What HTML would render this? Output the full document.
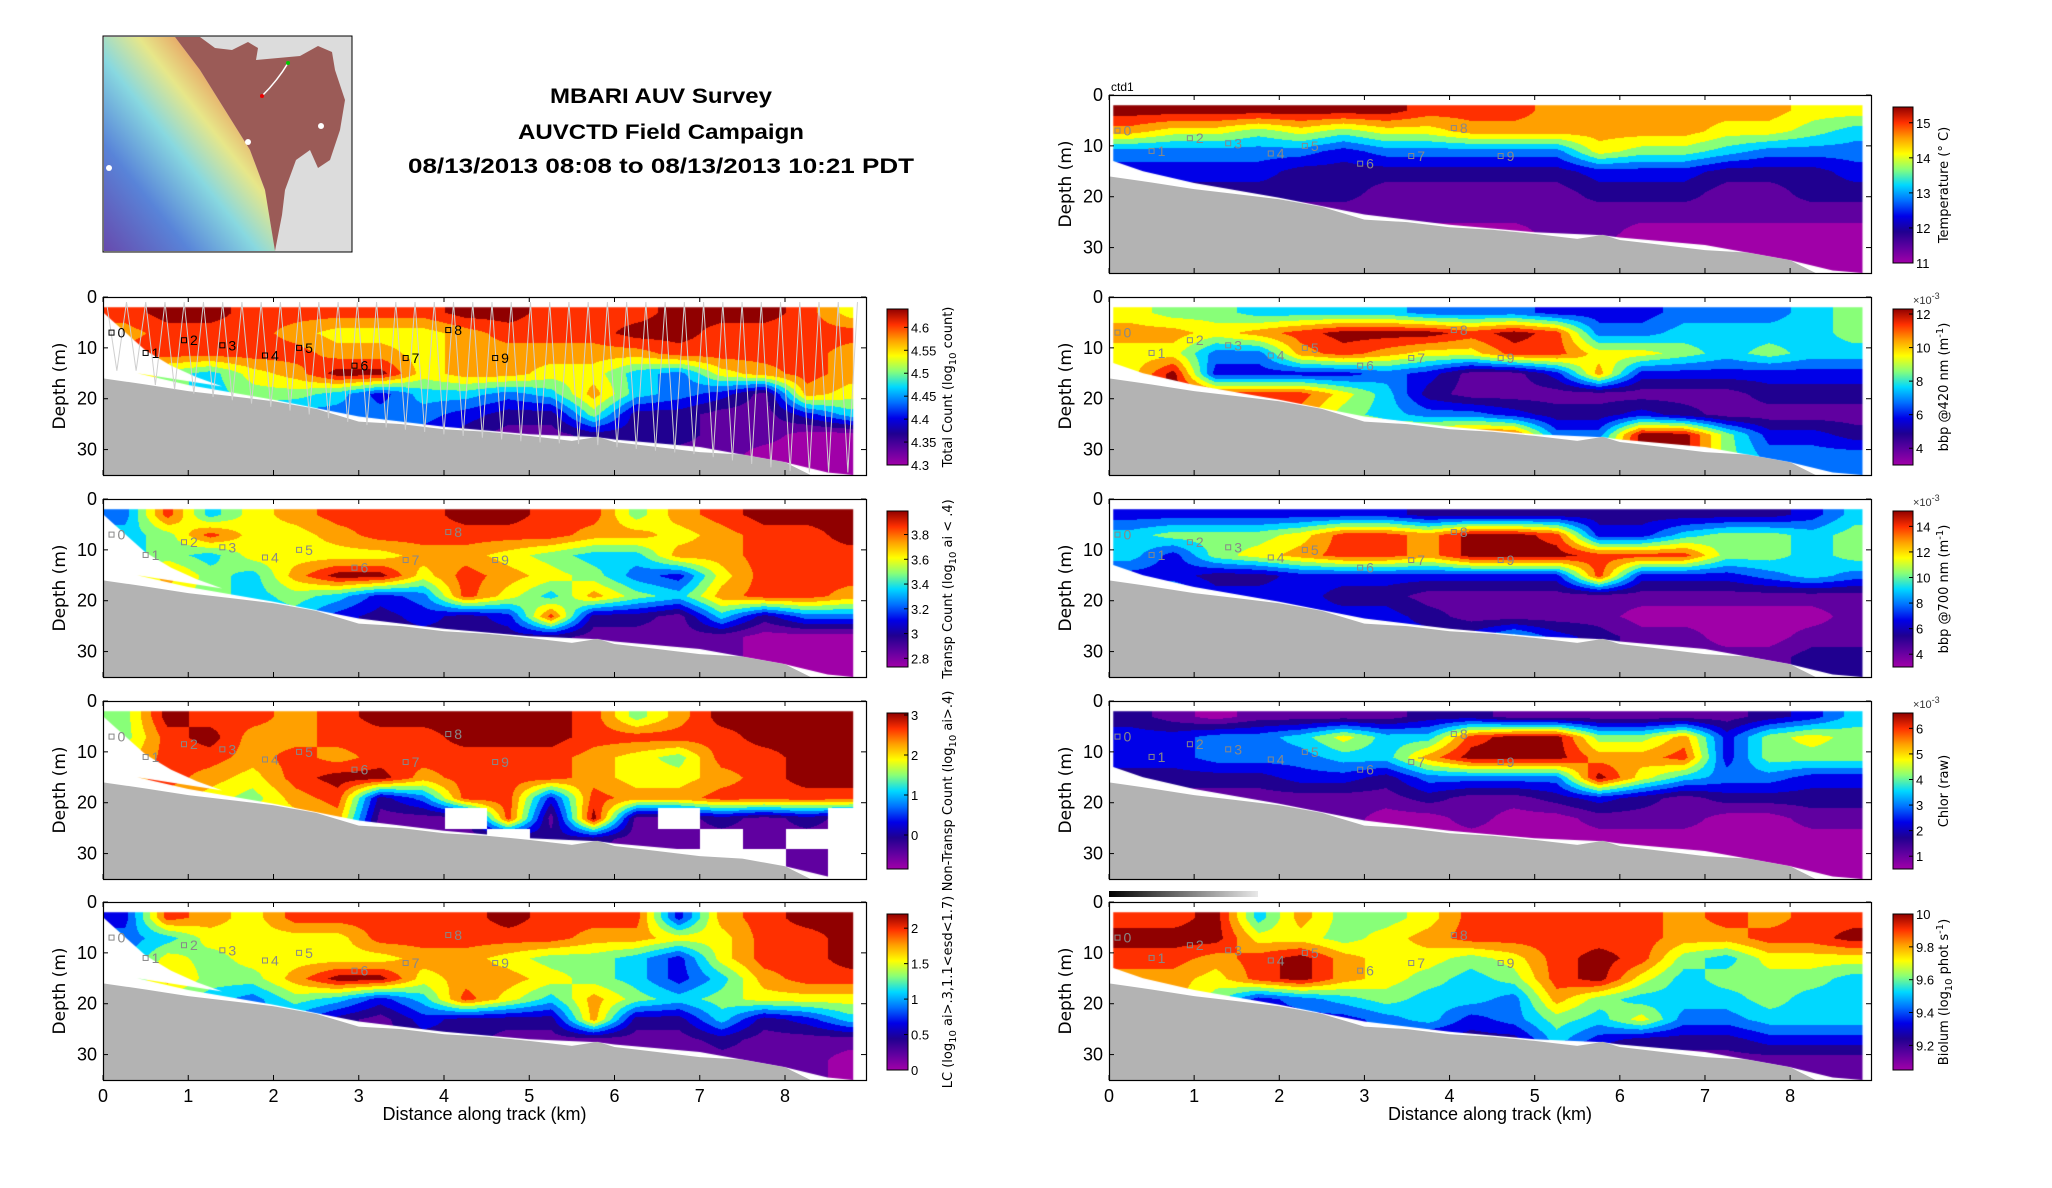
<!DOCTYPE html>
<html><head><meta charset="utf-8">
<style>
html,body{margin:0;padding:0;background:#fff;}
#root{position:relative;width:2052px;height:1188px;overflow:hidden;background:#fff;font-family:"Liberation Sans","DejaVu Sans",sans-serif;}
canvas{position:absolute;}
svg{position:absolute;left:0;top:0;}
</style></head>
<body>
<div id="root">
<svg id="ov" width="2052" height="1188">
 <defs>
  <linearGradient id="cbar" x1="0" y1="1" x2="0" y2="0">
   <stop offset="0" stop-color="#a000a8"/><stop offset="0.1" stop-color="#6000a0"/>
   <stop offset="0.2" stop-color="#200090"/><stop offset="0.3" stop-color="#0000e8"/>
   <stop offset="0.4" stop-color="#0070ff"/><stop offset="0.5" stop-color="#00d8ff"/>
   <stop offset="0.6" stop-color="#88ff78"/><stop offset="0.7" stop-color="#ffff00"/>
   <stop offset="0.8" stop-color="#ffa000"/><stop offset="0.9" stop-color="#ff3000"/>
   <stop offset="1" stop-color="#900000"/>
  </linearGradient>
  <linearGradient id="mapg" x1="0" y1="1" x2="1" y2="0">
   <stop offset="0" stop-color="#5a3aa8"/><stop offset="0.25" stop-color="#4a7ad8"/>
   <stop offset="0.45" stop-color="#7fd8e0"/><stop offset="0.6" stop-color="#e8e880"/>
   <stop offset="0.75" stop-color="#e89050"/><stop offset="0.9" stop-color="#c04040"/>
  </linearGradient>
  <linearGradient id="greybar" x1="0" y1="0" x2="1" y2="0">
   <stop offset="0" stop-color="#000"/><stop offset="1" stop-color="#e8e8e8"/>
  </linearGradient>
 </defs>
 <g>
  <rect x="103" y="36" width="249" height="216" fill="#dcdcdc" stroke="#000" stroke-width="1"/>
  <polygon points="104,37 175,37 200,70 225,110 250,150 265,190 275,251 104,251" fill="url(#mapg)" opacity="0.9"/>
  <polygon points="175,37 200,37 215,48 232,50 248,42 258,48 256,60 300,56 318,46 332,52 335,70 345,100 340,130 330,160 318,168 310,150 296,160 285,190 282,215 275,251 265,190 250,150 225,110 200,70" fill="#9b5b57"/>
  <path d="M262,96 Q278,80 288,63" stroke="#fff" stroke-width="1.5" fill="none"/>
  <circle cx="262" cy="96" r="2" fill="#e00"/><circle cx="288" cy="63" r="2" fill="#0c0"/>
  <circle cx="321" cy="126" r="3" fill="#fff"/><circle cx="248" cy="142" r="3" fill="#fff"/><circle cx="109" cy="168" r="3" fill="#fff"/>
 </g>
 <g font-weight="bold" font-size="21" text-anchor="middle">
  <text x="661" y="103" textLength="222" lengthAdjust="spacingAndGlyphs">MBARI AUV Survey</text>
  <text x="661" y="139" textLength="286" lengthAdjust="spacingAndGlyphs">AUVCTD Field Campaign</text>
  <text x="661" y="173" textLength="506" lengthAdjust="spacingAndGlyphs">08/13/2013 08:08 to 08/13/2013 10:21 PDT</text>
 </g>
 <text x="1111" y="91" font-size="12">ctd1</text>
 <rect x="1109" y="891" width="149" height="6" fill="url(#greybar)"/>
</svg>
</div>
<script>
// ---------- data ----------
const colKm=[0.25,0.75,1.25,1.75,2.25,2.75,3.25,3.75,4.25,4.75,5.25,5.75,6.25,6.75,7.25,7.75,8.25,8.75];
const rowDepth=[3,7,11,15,19,23,27,31];
const xTicks=[0,1,2,3,4,5,6,7,8];
const yTicks=[0,10,20,30];
const bathyKm=[0,0.5,1,1.5,2,2.5,3,3.5,4,4.5,5,5.5,5.8,6,6.5,7,7.5,8,8.3,8.95];
const bathyDepth=[16,17.2,18.5,19.5,20.5,22,24.5,25,26,26.5,27.3,28.3,27.5,28.5,29.5,30.5,31,32.5,35,35];
const dataBottomKm=[8.85,8.5,8,7,6,5.8,5,4,3,2,1,0.4];
const dataBottomDepth=[35,34.5,32.5,29.5,28,27.6,27,25.5,23.5,20.2,17.3,15];
const leftCutKm=[1.4,1.1,0.8,0.5,0.3,0.1,0];
const leftCutDepth=[17.6,15.8,13.5,10.5,7.5,4.5,3];
const stationNames=["0","1","2","3","4","5","6","7","8","9"];
const stationKm=[0.1,0.5,0.95,1.4,1.9,2.3,2.95,3.55,4.05,4.6];
const stationDepth=[7,11,8.5,9.5,11.5,10,13.5,12,6.5,12];

const tempGrid=[
[10,10,10,10,10,10,10,9,9,9,8,8,8,8,8,8,7,7],
[8,7,7,6,7,6,7,7,8,8,8,8,8,8,7,7,6,5],
[4,4,4,4,4,3,4,4,4,4,4,7,6,6,5,4,4,4],
[3,3,3,3,2,2,2,2,2,2,2,3,3,3,2,2,2,3],
[2,2,2,2,2,2,1,1,1,1,1,2,2,2,1,1,2,2],
[2,2,1,1,1,1,1,1,1,1,1,1,1,1,1,1,1,1],
[1,1,1,1,1,1,1,0,0,0,1,1,0,0,0,0,0,0],
[1,1,1,1,1,1,1,0,0,0,0,0,0,0,0,0,0,0]];
const bbp420Grid=[
[7,6,6,5,5,5,5,4,4,4,3,3,3,4,4,4,5,6],
[8,8,7,8,9,10,10,10,9,10,9,4,4,5,5,5,5,6],
[7,7,4,4,8,9,8,7,7,9,9,7,7,6,5,6,5,5],
[7,10,3,3,3,3,4,3,1,1,3,8,3,3,3,3,3,3],
[7,10,9,9,9,7,5,2,1,1,1,1,1,1,1,2,2,2],
[7,9,9,9,8,6,5,4,4,3,2,2,3,2,1,1,1,1],
[7,9,9,9,8,8,7,8,9,9,4,4,10,10,6,3,3,2],
[7,9,9,9,8,8,8,8,9,9,6,6,10,10,6,4,4,4]];
const bbp700Grid=[
[3,3,3,3,3,3,3,2,2,2,2,2,2,2,2,2,3,5],
[5,6,6,6,7,9,9,8,10,10,9,3,3,5,6,6,5,6],
[5,3,6,7,8,9,9,8,10,10,10,9,9,9,6,6,5,6],
[3,3,2,2,3,3,3,3,3,3,3,9,3,3,3,4,5,4],
[5,5,3,3,3,2,2,1,1,1,1,1,1,1,1,1,1,1],
[4,4,3,3,3,3,3,2,1,1,1,1,0,0,0,0,0,1],
[4,4,3,3,3,3,3,3,3,5,3,2,1,1,0,0,1,1],
[4,4,3,3,3,3,3,3,3,4,3,2,1,1,1,1,2,2]];
const chlorGrid=[
[2,1,0,1,1,1,1,2,2,1,1,1,1,1,1,2,3,5],
[3,3,4,4,5,7,5,5,9,10,10,6,6,8,3,6,7,6],
[3,3,4,4,4,5,5,8,10,10,10,8,8,9,3,6,6,6],
[2,2,2,2,3,3,2,4,4,4,4,10,7,5,4,4,3,3],
[1,1,1,1,1,1,1,2,1,1,2,3,2,1,2,2,2,2],
[1,1,1,1,1,1,0,0,1,0,0,1,1,1,0,0,1,1],
[1,1,1,1,1,1,0,0,0,0,0,0,0,0,0,0,0,0],
[1,1,1,1,1,1,0,0,0,0,0,0,0,0,0,0,0,0]];
const biolumGrid=[
[9,9,10,5,8,6,6,7,9,9,9,9,9,8,9,8,9,9],
[10,10,10,7,7,6,7,8,9,9,9,9,9,8,8,9,9,10],
[9,9,8,9,10,8,7,7,6,7,9,10,9,6,5,7,7,7],
[8,8,7,9,10,8,7,6,5,6,9,10,7,5,6,6,6,5],
[8,8,6,3,4,5,6,5,5,4,8,6,5,5,5,6,5,5],
[8,8,6,3,3,3,4,5,3,4,6,5,7,4,4,5,5,5],
[8,8,6,3,3,3,3,2,2,2,5,3,2,2,2,3,3,3],
[8,8,6,3,3,3,3,2,2,2,2,1,1,1,1,1,1,1]];
const totalGrid=[
[9,10,10,9,9,9,9,9,10,10,9,9,9,10,10,10,9,7],
[8,9,9,9,8,7,7,7,8,9,9,9,10,10,9,9,9,9],
[9,9,9,9,9,8,8,7,8,8,8,8,8,9,9,9,9,8],
[8,6,5,7,8,10,10,7,8,8,7,7,5,4,7,8,9,8],
[8,6,5,6,6,5,3,5,5,4,5,8,5,4,3,1,8,7],
[8,6,5,5,4,4,4,4,3,2,2,6,2,2,1,1,3,5],
[8,6,5,4,4,3,3,3,2,1,1,2,2,2,1,1,0,0],
[8,6,5,4,4,3,3,3,2,1,1,1,1,1,1,0,0,0]];
const transpGrid=[
[4,9,5,7,8,9,9,9,10,10,9,9,6,8,9,10,10,10],
[5,6,9,7,7,8,9,9,9,9,9,8,8,7,8,9,9,10],
[5,6,5,7,7,7,7,8,8,7,6,5,5,8,8,9,9,9],
[6,8,6,5,8,10,10,7,9,8,7,6,4,3,7,9,9,9],
[6,7,6,5,6,5,3,4,9,7,5,8,6,5,8,9,9,8],
[6,7,6,5,5,3,2,3,2,3,9,2,2,1,5,2,4,4],
[6,7,6,5,4,3,2,2,2,2,2,1,1,1,1,0,0,0],
[6,7,6,5,4,3,2,2,2,2,2,1,1,1,1,0,0,0]];
const nontranspGrid=[
[6,10,9,9,8,9,10,10,10,10,10,9,6,8,10,10,10,10],
[6,9,10,8,8,9,9,9,10,10,10,9,9,9,9,10,10,10],
[7,9,9,8,9,8,9,9,9,9,9,8,7,6,9,9,10,10],
[8,9,8,7,9,10,10,8,9,9,9,8,7,7,8,9,10,10],
[8,8,7,6,8,9,2,4,9,9,3,9,8,8,9,9,9,9],
[8,8,7,7,7,8,1,1,-1,9,1,10,1,-1,2,1,2,-1],
[8,8,7,7,7,7,1,1,1,-1,2,2,1,1,-1,1,-1,-1],
[8,8,7,7,7,7,1,1,1,1,1,1,1,-1,-1,-1,1,-1]];
const lcGrid=[
[3,9,8,7,9,9,9,9,9,10,9,9,9,3,8,9,10,10],
[4,5,7,7,7,7,9,9,9,9,9,8,8,7,7,9,9,10],
[4,7,6,7,7,7,7,8,8,7,6,6,5,3,7,9,9,10],
[5,8,6,6,8,10,10,7,8,8,7,6,5,3,5,8,9,9],
[5,6,5,4,6,5,3,5,9,7,5,8,6,5,6,7,7,7],
[5,6,5,4,4,2,1,3,2,2,2,8,2,2,5,2,3,5],
[5,6,5,4,3,2,1,2,2,1,1,1,1,1,2,1,1,1],
[5,6,5,4,3,2,1,1,1,1,1,0,0,0,1,1,1,0]];

const cb1Ticks=[4.3,4.35,4.4,4.45,4.5,4.55,4.6];
const cb2Ticks=[2.8,3,3.2,3.4,3.6,3.8];
const cb3Ticks=[0,1,2,3];
const cb4Ticks=[0,0.5,1,1.5,2];
const cbT1Ticks=[11,12,13,14,15];
const cbT2Ticks=[4,6,8,10,12];
const cbT3Ticks=[4,6,8,10,12,14];
const cbT4Ticks=[1,2,3,4,5,6];
const cbT5Ticks=[9.2,9.4,9.6,9.8,10];

// ---------- layout ----------
const PAL=[[160,0,168],[96,0,160],[32,0,144],[0,0,232],[0,112,255],[0,216,255],[136,255,120],[255,255,0],[255,160,0],[255,48,0],[144,0,0]];
const H=178, KMAX=8.95, DMAX=35;
const panels=[
 {name:'total-count',grid:totalGrid,x:103,w:763,top:297,side:'L',label:['Total Count (log',['10'],' count)'],ticks:cb1Ticks,min:4.3,max:4.64,yo:true,black:true},
 {name:'transp-count',grid:transpGrid,x:103,w:763,top:499,side:'L',label:['Transp Count (log',['10'],' ai < .4)'],ticks:cb2Ticks,min:2.73,max:3.99},
 {name:'nontransp-count',grid:nontranspGrid,x:103,w:763,top:701,side:'L',label:['Non-Transp Count (log',['10'],' ai>.4)'],ticks:cb3Ticks,min:-0.85,max:3.05},
 {name:'lc',grid:lcGrid,x:103,w:763,top:902,side:'L',label:['LC (log',['10'],' ai>.3,1.1<esd<1.7)'],ticks:cb4Ticks,min:0,max:2.2,xaxis:true},
 {name:'temperature',grid:tempGrid,x:1109,w:762,top:95,side:'R',label:['Temperature (° C)'],ticks:cbT1Ticks,min:11,max:15.45},
 {name:'bbp420',grid:bbp420Grid,x:1109,w:762,top:297,side:'R',label:['bbp @420 nm (m',['-1','sup'],')'],ticks:cbT2Ticks,min:3,max:12.3,exp:true},
 {name:'bbp700',grid:bbp700Grid,x:1109,w:762,top:499,side:'R',label:['bbp @700 nm (m',['-1','sup'],')'],ticks:cbT3Ticks,min:3,max:15.2,exp:true},
 {name:'chlor',grid:chlorGrid,x:1109,w:762,top:701,side:'R',label:['Chlor (raw)'],ticks:cbT4Ticks,min:0.5,max:6.6,exp:true},
 {name:'biolum',grid:biolumGrid,x:1109,w:762,top:902,side:'R',label:['Biolum (log',['10'],' phot s',['-1','sup'],')'],ticks:cbT5Ticks,min:9.05,max:10,xaxis:true}
];
const NS='http://www.w3.org/2000/svg';
const root=document.getElementById('root');
const ov=document.getElementById('ov');
function mk(tag,attrs,parent){const e=document.createElementNS(NS,tag);for(const k in attrs)e.setAttribute(k,attrs[k]);(parent||ov).appendChild(e);return e;}

panels.forEach(p=>{
 const xs=km=>p.x+km/KMAX*p.w;
 const ys=d=>p.top+d/DMAX*H;
 const cv=document.createElement('canvas');
 cv.width=p.w;cv.height=H;cv.style.left=p.x+'px';cv.style.top=p.top+'px';
 
 
 root.insertBefore(cv,ov);
 const off=document.createElement('canvas');off.width=p.w;off.height=H;
 const oc=off.getContext('2d');const img=oc.createImageData(p.w,H);
 const g=p.grid, nr=rowDepth.length, nc=colKm.length;
 const dc=colKm[1]-colKm[0], dr=rowDepth[1]-rowDepth[0];
 for(let py=0;py<H;py++){
  const d=py/H*DMAX;
  let fr=(d-rowDepth[0])/dr; fr=Math.max(0,Math.min(nr-1,fr));
  const r0=Math.floor(fr), r1=Math.min(nr-1,r0+1), tr=fr-r0;
  for(let px=0;px<p.w;px++){
   const km=px/p.w*KMAX;
   let fc=(km-colKm[0])/dc; fc=Math.max(0,Math.min(nc-1,fc));
   const c0=Math.floor(fc), c1=Math.min(nc-1,c0+1), tc=fc-c0;
   const i=(py*p.w+px)*4;
   if(g[Math.round(fr)][Math.round(fc)]<0){img.data[i+3]=0;continue;}
   const v=k=>k<0?1:k;
   const val=(v(g[r0][c0])*(1-tc)+v(g[r0][c1])*tc)*(1-tr)+(v(g[r1][c0])*(1-tc)+v(g[r1][c1])*tc)*tr;
   const lv=Math.max(0,Math.min(10,Math.round(val)));
   const col=PAL[lv];
   img.data[i]=col[0];img.data[i+1]=col[1];img.data[i+2]=col[2];img.data[i+3]=255;
  }
 }
 oc.putImageData(img,0,0);
 const ctx=cv.getContext('2d');
 ctx.save();ctx.beginPath();
 const lx=km=>km/KMAX*p.w, ly=d=>d/DMAX*H;
 const left0=p.side==='L'?0:0.05;
 ctx.moveTo(lx(left0),ly(2));
 ctx.lineTo(lx(p.side==='L'?8.8:8.85),ly(2));
 dataBottomKm.forEach((k,j)=>ctx.lineTo(lx(p.side==='L'?Math.min(k,8.8):k),ly(dataBottomDepth[j])));
 if(p.side==='L'){leftCutKm.forEach((k,j)=>ctx.lineTo(lx(k),ly(leftCutDepth[j])));}
 else{ctx.lineTo(lx(0.05),ly(13));}
 ctx.closePath();ctx.clip();ctx.drawImage(off,0,0);ctx.restore();

 const grp=mk('g',{});
 
 
 let pts=bathyKm.map((k,j)=>xs(k)+','+ys(bathyDepth[j])).join(' ');
 pts+=' '+xs(KMAX)+','+ys(DMAX)+' '+xs(0)+','+ys(DMAX);
 const sf=mk('polygon',{points:pts,fill:'#b3b3b3'},grp);
 
 
 if(p.yo){
  const yoCount=78;
  let path='M'+xs(0.05)+','+ys(2);
  for(let k=1;k<=yoCount;k++){
   const km=0.05+k*(8.8/yoCount);
   let bd=35;
   for(let j=0;j<dataBottomKm.length-1;j++){const a=dataBottomKm[j+1],b=dataBottomKm[j];if(km>=a&&km<=b){bd=dataBottomDepth[j+1]+(dataBottomDepth[j]-dataBottomDepth[j+1])*(km-a)/(b-a);}}
   if(km<0.4)bd=13;
   const d=(k%2===1)?Math.min(bd+1.5,34.5):1;
   path+=' L'+xs(km)+','+ys(d);
  }
  const yo=mk('path',{d:path,stroke:'#cfcfcf','stroke-width':1,fill:'none'},grp);
  
  
 }
 stationNames.forEach((s,j)=>{
  const col=p.black?'#000':'#888';
  const sq=mk('rect',{x:xs(stationKm[j])-2.5,y:ys(stationDepth[j])-2.5,width:5,height:5,fill:'none',stroke:col,'stroke-width':1},grp);
  
  
  const t=mk('text',{x:xs(stationKm[j])+6,y:ys(stationDepth[j])+5,'font-size':14,fill:col},grp);
  t.textContent=s;
  
  
 });
 const fr=mk('rect',{x:p.x+0.5,y:p.top+0.5,width:p.w,height:H,fill:'none',stroke:'#000','stroke-width':1.2},grp);
 
 
 xTicks.forEach(k=>{
  mk('line',{x1:xs(k),x2:xs(k),y1:p.top,y2:p.top+5,stroke:'#000'},grp);
  mk('line',{x1:xs(k),x2:xs(k),y1:p.top+H,y2:p.top+H-5,stroke:'#000'},grp);
  if(p.xaxis){
   const t=mk('text',{x:xs(k),y:p.top+H+22,'font-size':18,'text-anchor':'middle'},grp);
   t.textContent=String(k);
   
   
  }
 });
 yTicks.forEach(d=>{
  mk('line',{x1:p.x,x2:p.x+5,y1:ys(d),y2:ys(d),stroke:'#000'},grp);
  mk('line',{x1:p.x+p.w,x2:p.x+p.w-5,y1:ys(d),y2:ys(d),stroke:'#000'},grp);
  const t=mk('text',{x:p.x-6,y:ys(d)+6,'font-size':18,'text-anchor':'end'},grp);
  t.textContent=String(d);
  
  
 });
 const yl=mk('text',{x:0,y:0,'font-size':17,'text-anchor':'middle','font-family':'DejaVu Sans, sans-serif',transform:'translate('+(p.x-38)+','+(p.top+H/2)+') rotate(-90)'},grp);
 yl.textContent='Depth (m)';
 
 
 if(p.xaxis){
  const xl=mk('text',{x:p.x+p.w/2,y:p.top+H+40,'font-size':18,'text-anchor':'middle'},grp);
  xl.textContent='Distance along track (km)';
  
  
 }
 const cbx=p.side==='L'?887:1893, cbw=p.side==='L'?21:20;
 const cbTop=p.top+12, cbBot=p.top+168;
 const cs=v=>cbBot-(v-p.min)/(p.max-p.min)*(cbBot-cbTop);
 const cb=mk('rect',{x:cbx,y:cbTop,width:cbw,height:cbBot-cbTop,fill:'url(#cbar)',stroke:'#000','stroke-width':1},grp);
 
 
 p.ticks.forEach(v=>{
  mk('line',{x1:cbx+cbw-4,x2:cbx+cbw,y1:cs(v),y2:cs(v),stroke:'#000'},grp);
  const t=mk('text',{x:cbx+cbw+3,y:cs(v)+5,'font-size':13},grp);
  t.textContent=String(v);
  
  
 });
 if(p.exp){
  const e=mk('text',{x:cbx+20,y:p.top+7,'font-size':11,fill:'#333'},grp);
  e.textContent='×10';
  const s=mk('tspan',{dy:-5,'font-size':9},e);s.textContent='-3';
  
  
 }
 const lxp=p.side==='L'?952:1948;
 const cl=mk('text',{x:0,y:0,'font-size':13,'text-anchor':'middle','font-family':'DejaVu Sans, sans-serif',transform:'translate('+lxp+','+((cbTop+cbBot)/2)+') rotate(-90)'},grp);
 p.label.forEach(part=>{
  if(typeof part==='string'){const ts=mk('tspan',{},cl);ts.textContent=part;}
  else{const sup=part[1]==='sup';const ts=mk('tspan',{dy:sup?-5:4,'font-size':10},cl);ts.textContent=part[0];const back=mk('tspan',{dy:sup?5:-4},cl);back.textContent='\u200b';}
 });
 
 
});
</script>
</body></html>
